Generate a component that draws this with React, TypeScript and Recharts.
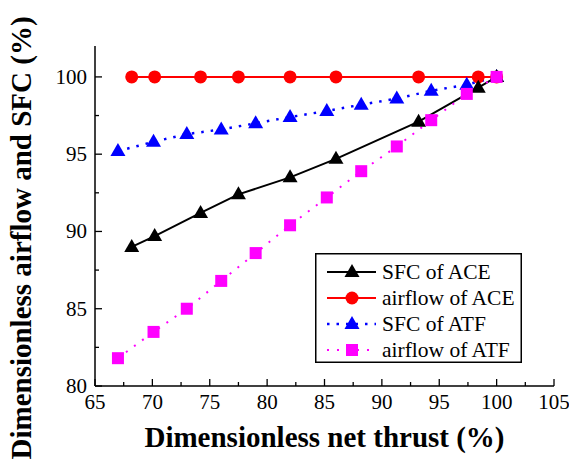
import { LineChart, Line, XAxis, YAxis, Legend } from 'recharts'

type Pt = { x: number; y: number }

// net thrust (%) at each operating point
const aceThrust = [68.2, 70.2, 74.2, 77.5, 82.0, 86.0, 93.2, 98.4, 100]
const atfThrust = [67.0, 70.1, 73.0, 76.0, 79.0, 82.0, 85.2, 88.2, 91.3, 94.3, 97.4, 100]

const aceSfc = [89.0, 89.7, 91.2, 92.4, 93.5, 94.7, 97.1, 99.3, 100]
const aceAirflow = [100, 100, 100, 100, 100, 100, 100, 100, 100]
const atfSfc = [95.2, 95.8, 96.3, 96.6, 97.0, 97.4, 97.8, 98.2, 98.6, 99.1, 99.5, 100]
const atfAirflow = [81.8, 83.5, 85.0, 86.8, 88.6, 90.4, 92.2, 93.9, 95.5, 97.2, 98.9, 100]

const xTicks = [65, 67.5, 70, 72.5, 75, 77.5, 80, 82.5, 85, 87.5, 90, 92.5, 95, 97.5, 100, 102.5, 105]
const yTicks = [80, 82.5, 85, 87.5, 90, 92.5, 95, 97.5, 100]

const zip = (xs: number[], ys: number[]): Pt[] => xs.map((x, i) => ({ x, y: ys[i] }))

const FONT = '"Liberation Serif", "Times New Roman", serif'
const tickText = { fontFamily: FONT, fontSize: 21, fill: '#000' }
const titleText = { fontFamily: FONT, fontSize: 29, fontWeight: 'bold', fill: '#000' }

type Shape = 'triangle' | 'circle' | 'square'

const series = [
  { name: 'SFC of ACE', data: zip(aceThrust, aceSfc), color: '#000000', dash: undefined, width: 2, shape: 'triangle' as Shape },
  { name: 'airflow of ACE', data: zip(aceThrust, aceAirflow), color: '#ff0000', dash: undefined, width: 2, shape: 'circle' as Shape },
  { name: 'SFC of ATF', data: zip(atfThrust, atfSfc), color: '#0000ff', dash: '2.5 7', width: 2.5, shape: 'triangle' as Shape },
  { name: 'airflow of ATF', data: zip(atfThrust, atfAirflow), color: '#ff00ff', dash: '2 8', width: 2, shape: 'square' as Shape },
]

// draw order: red, blue, black, magenta on top
const drawOrder = [1, 2, 0, 3]

function Marker({ cx, cy, shape, color }: { cx: number; cy: number; shape: Shape; color: string }) {
  if (shape === 'circle') return <circle cx={cx} cy={cy} r={6.5} fill={color} />
  if (shape === 'square') return <rect x={cx - 6} y={cy - 6} width={12} height={12} fill={color} />
  return <polygon points={`${cx},${cy - 8} ${cx - 7.5},${cy + 5} ${cx + 7.5},${cy + 5}`} fill={color} />
}

const isMajor = (v: number) => Math.abs(v % 5) < 1e-6

// inward ticks, labels only on the majors
function XTick(props: any) {
  const { x, y, payload } = props
  const major = isMajor(payload.value)
  return (
    <g>
      <line x1={x} y1={y} x2={x} y2={y - (major ? 7 : 4)} stroke="#000" strokeWidth={1.3} />
      {major && (
        <text x={x} y={y + 23} textAnchor="middle" style={tickText}>
          {payload.value}
        </text>
      )}
    </g>
  )
}

function YTick(props: any) {
  const { x, y, payload } = props
  const major = isMajor(payload.value)
  return (
    <g>
      <line x1={x} y1={y} x2={x + (major ? 7 : 4)} y2={y} stroke="#000" strokeWidth={1.3} />
      {major && (
        <text x={x - 8} y={y + 7} textAnchor="end" style={tickText}>
          {payload.value}
        </text>
      )}
    </g>
  )
}

function LegendBox() {
  return (
    <svg width={207} height={110} style={{ display: 'block' }}>
      <rect x={0.75} y={0.75} width={205.5} height={108.5} fill="#fff" stroke="#000" strokeWidth={1.5} />
      {series.map((s, i) => {
        const cy = 19 + i * 26
        return (
          <g key={s.name}>
            <line x1={12} y1={cy} x2={61} y2={cy} stroke={s.color} strokeWidth={s.width} strokeDasharray={s.dash} />
            <Marker cx={37} cy={cy} shape={s.shape} color={s.color} />
            <text x={67} y={cy + 7} style={{ ...tickText, fontSize: 21.5 }}>
              {s.name}
            </text>
          </g>
        )
      })}
    </svg>
  )
}

export default function App() {
  return (
    <div style={{ position: 'absolute', left: 0, top: 0, width: 569, height: 463, background: '#fff' }}>
      <LineChart width={569} height={463} margin={{ top: 46, right: 15, left: 0, bottom: 0 }}>
        <XAxis
          type="number"
          dataKey="x"
          domain={[65, 105]}
          ticks={xTicks}
          interval={0}
          height={77}
          tickSize={0}
          tickMargin={0}
          tickLine={false}
          axisLine={{ stroke: '#000', strokeWidth: 1.5 }}
          tick={<XTick />}
          label={{
            value: 'Dimensionless net thrust (%)',
            position: 'insideBottom',
            offset: 16,
            style: titleText,
          }}
        />
        <YAxis
          type="number"
          domain={[80, 102]}
          ticks={yTicks}
          interval={0}
          width={95}
          tickSize={0}
          tickMargin={0}
          tickLine={false}
          axisLine={{ stroke: '#000', strokeWidth: 1.5 }}
          tick={<YTick />}
          label={{
            content: () => (
              <text x={0} y={0} transform="translate(31, 238) rotate(-90)" textAnchor="middle" style={titleText}>
                Dimensionless airflow and SFC (%)
              </text>
            ),
          }}
        />
        <Legend
          layout="vertical"
          align="center"
          verticalAlign="middle"
          content={<LegendBox />}
          wrapperStyle={{ left: 315, top: 253, width: 207, height: 110 }}
        />
        {drawOrder.map((idx) => {
          const s = series[idx]
          return (
            <Line
              key={s.name}
              name={s.name}
              data={s.data}
              dataKey="y"
              type="linear"
              stroke={s.color}
              strokeWidth={s.width}
              strokeDasharray={s.dash}
              isAnimationActive={false}
              dot={(p: any) => (
                <Marker key={`${s.name}-${p.index}`} cx={p.cx} cy={p.cy} shape={s.shape} color={s.color} />
              )}
              activeDot={false}
            />
          )
        })}
      </LineChart>
    </div>
  )
}
